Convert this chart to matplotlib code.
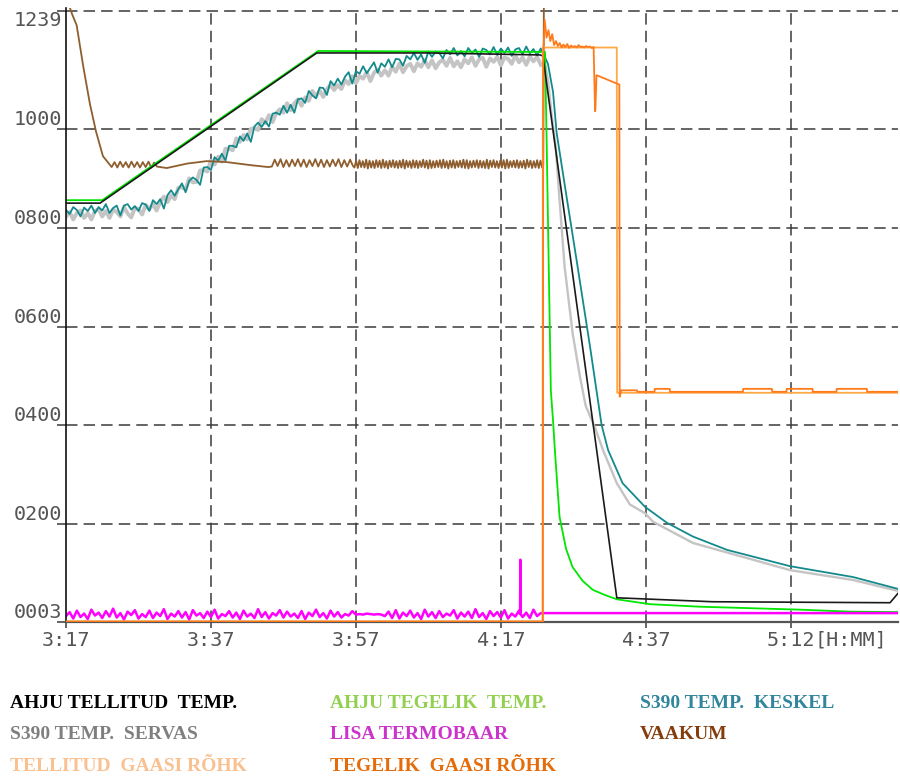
import numpy as np
import matplotlib
matplotlib.use("Agg")
import matplotlib.pyplot as plt

# ---------------- data (time in minutes after 3:17, values in chart units) -------------
x_ticks = [0, 20, 40, 60, 80, 100]
x_labels = ["3:17", "3:37", "3:57", "4:17", "4:37", "5:12"]
x_unit = "[H:MM]"
y_ticks = [3, 200, 400, 600, 800, 1000, 1239]
y_labels = ["0003", "0200", "0400", "0600", "0800", "1000", "1239"]

# AHJU TELLITUD TEMP. (setpoint)
set_t = [0, 4.7, 34.6, 50.0, 65.4, 65.8, 76.0, 89.2, 113.7, 114.8]
set_v = [850, 850, 1154, 1154, 1150, 1148, 51, 43, 41, 60]

# AHJU TEGELIK TEMP.
act_t = [0, 5.0, 34.8, 65.9, 66.1, 66.3, 66.6, 66.9, 67.2, 67.5, 68.1, 69.0, 69.9,
         71.3, 72.7, 74.3, 76.0, 80.6, 87.4, 94.3, 101.2, 108.1, 114.8]
act_v = [856, 856, 1158, 1156, 1156, 992, 730, 470, 410, 340, 215, 150, 113,
         85, 67, 57, 48, 38, 33, 30, 27, 23, 22]

# S390 TEMP. KESKEL (sampled every 0.5 min until the drop, then the cooling curve)
kesk_noisy = [836, 828, 842, 836, 823, 841, 834, 845, 830, 842,
              835, 848, 830, 840, 845, 825, 845, 848, 837, 844,
              834, 850, 847, 834, 856, 848, 858, 839, 866, 876,
              865, 878, 890, 872, 895, 902, 897, 887, 922, 923,
              917, 943, 936, 950, 936, 966, 966, 963, 985, 976,
              991, 974, 1005, 1013, 1004, 1016, 1005, 1031, 1033, 1029,
              1047, 1033, 1049, 1033, 1060, 1062, 1053, 1077, 1068, 1062,
              1084, 1083, 1069, 1097, 1088, 1102, 1090, 1106, 1115, 1092,
              1117, 1112, 1127, 1113, 1124, 1135, 1114, 1133, 1126, 1141,
              1125, 1142, 1141, 1128, 1148, 1141, 1154, 1140, 1151, 1134,
              1157, 1146, 1157, 1154, 1143, 1160, 1151, 1164, 1149, 1158,
              1147, 1164, 1154, 1161, 1146, 1163, 1160, 1151, 1166, 1150,
              1163, 1154, 1165, 1148, 1161, 1164, 1151, 1167, 1153, 1162,
              1149, 1163]
kesk_cool_t = [66.0, 66.5, 67.2, 67.7, 69.1, 70.5, 72.3, 73.9, 74.8, 76.8, 79.9,
               82.9, 86.5, 91.2, 99.9, 108.6, 114.8]
kesk_cool_v = [1148, 1132, 1075, 992, 860, 730, 560, 401, 350, 283, 235,
               203, 175, 148, 115, 93, 69]

# S390 TEMP. SERVAS
serv_noisy = [822, 832, 817, 830, 835, 820, 830, 817, 834, 838,
              823, 834, 820, 837, 832, 823, 842, 829, 821, 840,
              838, 827, 846, 838, 848, 835, 852, 863, 852, 866,
              858, 881, 882, 878, 900, 892, 893, 916, 917, 914,
              936, 928, 944, 934, 960, 960, 957, 981, 974, 988,
              979, 1000, 1002, 998, 1020, 1012, 1028, 1014, 1032, 1040,
              1033, 1052, 1038, 1052, 1060, 1047, 1064, 1057, 1077, 1066,
              1078, 1065, 1081, 1089, 1079, 1089, 1081, 1099, 1091, 1107,
              1093, 1107, 1102, 1115, 1097, 1114, 1120, 1108, 1119, 1108,
              1126, 1116, 1132, 1115, 1127, 1132, 1117, 1133, 1126, 1139,
              1125, 1139, 1123, 1135, 1140, 1128, 1144, 1127, 1137, 1125,
              1141, 1133, 1145, 1128, 1141, 1144, 1126, 1143, 1136, 1146,
              1129, 1145, 1142, 1132, 1149, 1135, 1145, 1130, 1147, 1137,
              1146, 1130]
serv_cool_t = [66.0, 66.5, 67.0, 67.6, 68.1, 68.8, 69.9, 70.9, 71.7, 73.0, 74.1,
               76.0, 77.8, 79.9, 81.0, 86.5, 94.8, 99.9, 108.6, 114.8]
serv_cool_v = [1138, 1100, 1030, 960, 856, 721, 587, 500, 440, 395, 350,
               283, 240, 222, 205, 162, 128, 107, 87, 65]

# LISA TERMOBAAR
lisa_noisy = [14, 22, 9, 25, 12, 19, 8, 27, 15, 21,
              10, 24, 13, 29, 11, 20, 7, 23, 16, 26,
              9, 18, 12, 25, 10, 21, 14, 28, 8, 19,
              13, 24, 11, 22, 7, 26, 15, 20, 10, 23,
              12, 27, 9, 18, 14, 24, 11, 21, 8, 25,
              13, 19, 10, 28, 12, 22, 9, 20, 15, 26,
              11, 23, 13, 19, 10, 24, 8, 21, 14, 27,
              12, 20, 9, 25, 13, 22, 11, 18, 15, 24,
              17, 18, 17, 19, 18, 17, 18, 17, 14, 23,
              10, 26, 9, 21, 14, 25, 11, 20, 8, 27,
              13, 22, 10, 24, 12, 19, 15, 26, 9, 21,
              13, 23, 10, 28, 12, 20, 8, 24, 14, 22,
              11, 26, 9, 19, 13, 25, 12, 21, 10, 27,
              14, 20]
lisa_spike_t = [62.65, 62.7, 62.75]
lisa_spike_v = [18, 128, 18]
lisa_tail_t = [65.8, 114.8]
lisa_tail_v = [20, 20]

# VAAKUM
vak_start_t = [0.0, 0.55, 0.83, 1.47, 2.39, 3.31, 4.14, 5.10, 6.07]
vak_start_v = [1300, 1245, 1233, 1210, 1126, 1050, 995, 945, 927]
vak_saw1_lo = [923, 922, 923, 922, 923, 922, 923, 922, 924]
vak_saw1_hi = [933, 934, 933, 934, 933, 933, 934, 932]
vak_mid_t = [13.9, 16.7, 19.4, 22.2, 25.4, 27.9]
vak_mid_v = [921, 930, 935, 933, 927, 923]
vak_saw2_lo = [924, 925, 923, 924, 925, 924, 923, 925, 924, 923, 924, 925, 923, 924, 925]
vak_saw2_hi = [938, 939, 937, 938, 939, 938, 937, 939, 938, 937, 938, 939, 937, 938]
vak_saw3_lo = [922, 921, 923, 922, 920, 922, 921, 923, 921, 922, 920, 923, 922, 921, 922,
               920, 923, 921, 922, 921, 923, 922, 920, 921, 922, 923, 921, 922, 920, 922,
               921, 923, 922, 921, 920, 922, 923, 921, 922, 921, 920, 923, 922, 921, 922,
               920, 921, 923, 922, 921, 922, 920, 923, 921, 922, 921, 922]
vak_saw3_hi = [936, 937, 935, 938, 936, 935, 937, 936, 938, 935, 936, 937, 935, 936, 938,
               936, 935, 937, 936, 935, 938, 936, 937, 935, 936, 937, 938, 935, 936, 937,
               935, 936, 938, 937, 935, 936, 937, 936, 935, 938, 936, 937, 935, 936, 937,
               938, 935, 936, 937, 935, 936, 938, 936, 935, 937, 936]
vak_end_t = [65.85, 65.95]
vak_end_v = [926, 1300]

# TELLITUD GAASI RÕHK
tgas_t = [0, 65.75, 65.8, 76.0, 76.05, 114.8]
tgas_v = [3, 3, 1165, 1165, 466, 466]

# TEGELIK GAASI RÕHK
ggas_pre_t = [0, 65.8, 65.85]
ggas_pre_v = [3, 3, 1150]
ggas_noisy = [1221, 1185, 1200, 1178, 1192, 1170, 1178, 1168, 1174, 1165, 1171, 1166, 1172,
              1164, 1169, 1166, 1168, 1165, 1170, 1166, 1167, 1165, 1168, 1166, 1167, 1164, 1166]
ggas_post_t = [73.0, 73.05, 73.2, 76.35, 76.4, 76.6, 78.8, 78.85, 81.2, 81.25, 83.3, 83.35,
               93.4, 93.45, 97.4, 97.45, 99.4, 99.45, 103.0, 103.05, 106.3, 106.35,
               110.5, 110.55, 114.8]
ggas_post_v = [1036, 1040, 1109, 1090, 458, 471, 471, 468, 468, 474, 474, 468,
               468, 474, 474, 468, 468, 474, 474, 468, 468, 474, 474, 468, 468]

legend_rows = [
    [("AHJU TELLITUD  TEMP.", "#000000"), ("AHJU TEGELIK  TEMP.", "#92d050"), ("S390 TEMP.  KESKEL", "#31859c")],
    [("S390 TEMP.  SERVAS", "#7f7f7f"), ("LISA TERMOBAAR", "#cc33cc"), ("VAAKUM", "#843c0c")],
    [("TELLITUD  GAASI RÕHK", "#fac090"), ("TEGELIK  GAASI RÕHK", "#e46c0a")],
]


def zigzag(lows, highs):
    out = []
    for i, lo in enumerate(lows):
        out.append(lo)
        if i < len(highs):
            out.append(highs[i])
    return out


# ---------------- assemble series ----------------
kesk_t = np.concatenate([np.arange(len(kesk_noisy)) * 0.5, kesk_cool_t])
kesk_v = np.concatenate([kesk_noisy, kesk_cool_v])
serv_noisy_t = np.arange(len(serv_noisy)) * 0.5
serv_cool_tt = np.concatenate([[serv_noisy_t[-1]], serv_cool_t])
serv_cool_vv = np.concatenate([[serv_noisy[-1]], serv_cool_v])

lt = np.concatenate([np.arange(len(lisa_noisy)) * 0.5, lisa_spike_t])
lv = np.concatenate([lisa_noisy, lisa_spike_v])
order = np.argsort(lt, kind="stable")
lisa_t = np.concatenate([lt[order], lisa_tail_t])
lisa_v = np.concatenate([lv[order], lisa_tail_v])

s1 = zigzag(vak_saw1_lo, vak_saw1_hi)
s2 = zigzag(vak_saw2_lo, vak_saw2_hi)
s3 = zigzag(vak_saw3_lo, vak_saw3_hi)
vak_t = np.concatenate([vak_start_t, np.linspace(6.3, 12.55, len(s1)), vak_mid_t,
                        np.linspace(28.4, 39.6, len(s2)), np.linspace(39.8, 65.7, len(s3)),
                        vak_end_t])
vak_v = np.concatenate([vak_start_v, s1, vak_mid_v, s2, s3, vak_end_v])

ggas_t = np.concatenate([ggas_pre_t, np.linspace(66.05, 72.8, len(ggas_noisy)), ggas_post_t])
ggas_v = np.concatenate([ggas_pre_v, ggas_noisy, ggas_post_v])

# ---------------- figure ----------------
W, H = 900, 776
fig = plt.figure(figsize=(W / 100, H / 100), dpi=100)
fig.patch.set_facecolor("white")
ax = fig.add_axes([66 / W, 1 - 621.5 / H, 832 / W, 613.5 / H])
ax.set_xlim(0, 114.8)
ax.set_ylim(3, 1245)

ax.plot(serv_noisy_t, serv_noisy, color="#c4c4c4", lw=2.8, zorder=2.0)
ax.plot(serv_cool_tt, serv_cool_vv, color="#c4c4c4", lw=1.7, zorder=2.0)
ax.plot(kesk_t, kesk_v, color="#138a8c", lw=1.3, zorder=2.1)
ax.plot(vak_t, vak_v, color="#8f5e2e", lw=1.3, zorder=2.2)
ax.plot(act_t, act_v, color="#00e600", lw=1.3, zorder=2.3)
ax.plot(set_t, set_v, color="#1a1a1a", lw=1.2, zorder=2.4)
ax.plot(lisa_t, lisa_v, color="#ff00ff", lw=1.8, zorder=2.5)
ax.plot(tgas_t, tgas_v, color="#ffa947", lw=1.3, zorder=2.6)
ax.plot(ggas_t, ggas_v, color="#ff7a1a", lw=1.3, zorder=2.7)

# grid
grid_style = dict(color="#3a3a3a", lw=1.1, ls=(0, (7.5, 4)), zorder=1)
for xt in x_ticks[1:]:
    ax.axvline(xt, **grid_style)
for yt in y_ticks[1:]:
    ax.axhline(yt, **grid_style)

# spines
for s in ["top", "right"]:
    ax.spines[s].set_visible(False)
ax.spines["left"].set_color("#111111")
ax.spines["left"].set_linewidth(1.2)
ax.spines["bottom"].set_color("#555555")
ax.spines["bottom"].set_linewidth(1.6)

fsize = 14.5
tick_font = dict(family="DejaVu Sans Mono", size=fsize)
ax.set_xticks(x_ticks)
ax.set_xticklabels(x_labels, fontdict=tick_font, color="#555555")
ax.set_yticks(y_ticks)
ax.set_yticklabels(y_labels, fontdict=tick_font, color="#555555")
ax.tick_params(axis="x", direction="out", length=4.3, width=1.1, color="#3a3a3a", pad=2.5)
ax.tick_params(axis="y", direction="out", length=6.5, width=1.1, color="#3a3a3a", pad=-3.6)
for lab, val in zip(ax.get_yticklabels(), y_ticks):
    lab.set_verticalalignment("top" if val == y_ticks[-1] else "bottom")

half_w = 4 * 0.6021 * fsize * 100 / 72 / 2
ax.annotate(x_unit, xy=(x_ticks[-1], 0), xycoords=("data", "axes fraction"),
            xytext=(half_w, -9.5), textcoords="offset pixels", ha="left", va="top",
            color="#555555", family="DejaVu Sans Mono", size=fsize)

# legend as coloured text
col_x = [10, 330, 640]
row_y = [708, 739, 771]
for r, row in enumerate(legend_rows):
    for c, (txt, colr) in enumerate(row):
        fig.text(col_x[c] / W, 1 - row_y[r] / H, txt, color=colr, family="Liberation Serif",
                 weight="bold", size=14, ha="left", va="baseline")

fig.savefig("out.png", dpi=100, facecolor="white")
